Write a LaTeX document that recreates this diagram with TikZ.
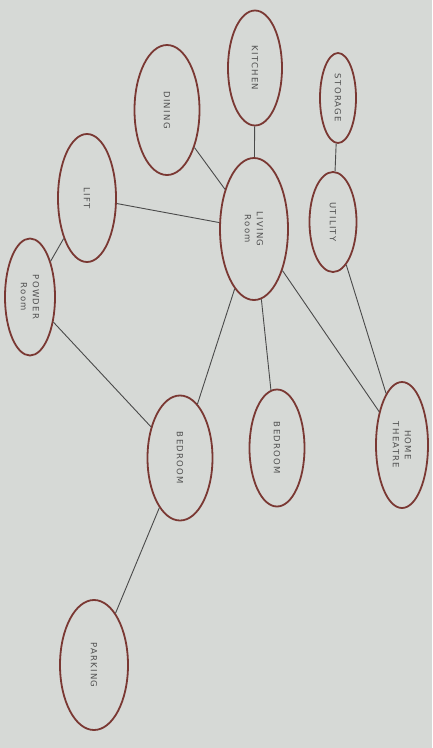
\documentclass[tikz,border=0pt]{standalone}
\usepackage{fontspec}
\usetikzlibrary{shapes.geometric}
\newfontfamily\lab[LetterSpace=15]{DejaVu Sans}
\definecolor{paper}{HTML}{D6D9D6}
\definecolor{bub}{HTML}{7A3833}
\definecolor{ink}{HTML}{4A4A4A}
\definecolor{txt}{HTML}{505050}
\begin{document}
\begin{tikzpicture}[x=1pt,y=-1pt,
  room/.style={ellipse, draw=bub, line width=1.8pt, rotate=-90, inner sep=0pt,
    font=\lab\fontsize{8.5}{12}\selectfont, text=txt, align=center},
  link/.style={draw=ink, line width=0.9pt}]
\fill[paper] (0,0) rectangle (432,748);
\useasboundingbox (0,0) rectangle (432,748);
% nodes: minimum width = vertical extent, minimum height = horizontal extent (rotated)
\node[room, minimum width=115, minimum height=54] (kit) at (255,68) {KITCHEN};
\node[room, minimum width=90, minimum height=36] (sto) at (338,98) {STORAGE};
\node[room, minimum width=130, minimum height=65] (din) at (167,110) {DINING};
\node[room, minimum width=128, minimum height=58] (lift) at (87,198) {LIFT};
\node[room, minimum width=142, minimum height=68] (liv) at (254,229) {LIVING\\Room};
\node[room, minimum width=100, minimum height=47] (uti) at (333,222) {UTILITY};
\node[room, minimum width=117, minimum height=50] (pow) at (30,297) {POWDER\\Room};
\node[room, minimum width=125, minimum height=65] (bed1) at (180,458) {BEDROOM};
\node[room, minimum width=117, minimum height=55] (bed2) at (277,448) {BEDROOM};
\node[room, minimum width=126, minimum height=52] (ht) at (402,445) {HOME\\THEATRE};
\node[room, minimum width=130, minimum height=68] (park) at (94,665) {PARKING};
% connectors
\draw[link] (kit) -- (liv);
\draw[link] (din) -- (liv);
\draw[link] (lift) -- (liv);
\draw[link] (lift) -- (pow);
\draw[link] (pow) -- (bed1);
\draw[link] (liv) -- (bed1);
\draw[link] (liv) -- (bed2);
\draw[link] (liv) -- (ht);
\draw[link] (uti) -- (ht);
\draw[link] (sto) -- (uti);
\draw[link] (bed1) -- (park);
\end{tikzpicture}
\end{document}
